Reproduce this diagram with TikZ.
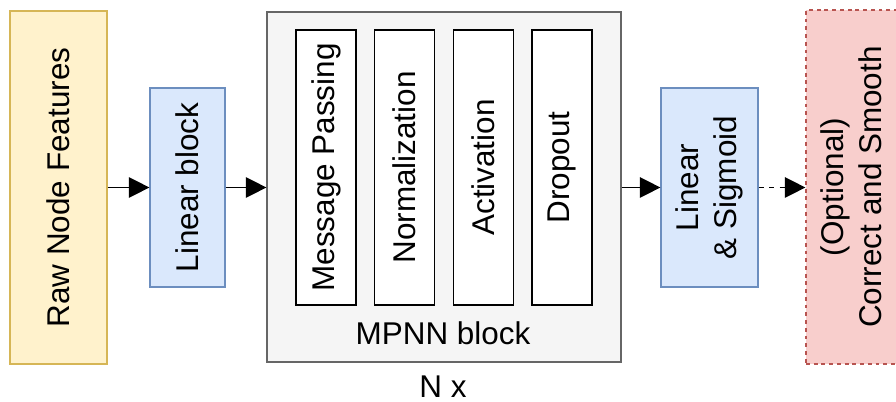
\documentclass[tikz,border=0pt]{standalone}
\usepackage{fontspec}
\setmainfont{Liberation Sans}
\usetikzlibrary{arrows.meta}

\definecolor{rawfill}{HTML}{FFF2CC}
\definecolor{rawline}{HTML}{D6B656}
\definecolor{linfill}{HTML}{DAE8FC}
\definecolor{linline}{HTML}{6C8EBF}
\definecolor{mpfill}{HTML}{F5F5F5}
\definecolor{mpline}{HTML}{666666}
\definecolor{csfill}{HTML}{F8CECC}
\definecolor{csline}{HTML}{B85450}

\newcommand{\pxl}{0.02cm}

\tikzset{
	txt/.style={font=\fontsize{17.9}{21.6}\selectfont},
	blk/.style={txt, draw, line width=0.7pt, inner sep=0pt, align=center},
	layer/.style={blk, fill=white, draw=black, line width=0.8pt, minimum width=60*\pxl, minimum height=275*\pxl},
	arr/.style={line width=0.8pt, -{Triangle[length=0.41cm,width=0.41cm]}}
}

\begin{document}
\begin{tikzpicture}[x=\pxl,y=\pxl]
	\useasboundingbox (0,0) rectangle (896,402);
	\node[blk, fill=rawfill, draw=rawline, minimum width=97*\pxl, minimum height=353*\pxl] (raw) at (58.5,214.5) {\rotatebox{90}{Raw Node Features}};
	\node[blk, fill=linfill, draw=linline, minimum width=75*\pxl, minimum height=199*\pxl] (lin) at (187.5,214.5) {\rotatebox{90}{Linear block}};
	\node[blk, fill=mpfill, draw=mpline, minimum width=354*\pxl, minimum height=350*\pxl] (mpnn) at (444,215) {};
	
	\foreach \name/\lbl [count=\i from 0] in {msg/Message Passing, norm/Normalization, act/Activation, drop/Dropout}
		\node[layer] (\name) at (326 + 78.67*\i, 234.5) {\rotatebox{90}{\lbl}};
	
	\node[txt] (mpnnlbl) at (443,69) {MPNN block};
	\node[txt, anchor=base, inner sep=0pt] (reps) at (443,4) {N x};
	
	\node[blk, fill=linfill, draw=linline, minimum width=97*\pxl, minimum height=199*\pxl] (linsig) at (709.5,214.5) {\rotatebox{90}{\begin{tabular}{@{}c@{}}Linear\\ \& Sigmoid\end{tabular}}};
	\node[blk, fill=csfill, draw=csline, dash pattern=on 2.2pt off 2.2pt, minimum width=97*\pxl, minimum height=354*\pxl] (cs) at (854.5,215) {\rotatebox{90}{\begin{tabular}{@{}c@{}}(Optional)\\ Correct and Smooth\end{tabular}}};
	
	\draw[arr] (raw.east) -- (lin.west);
	\draw[arr] (lin.east) -- (lin.east -| mpnn.west);
	\draw[arr] (linsig.west -| mpnn.east) -- (linsig.west);
	\draw[arr, dash pattern=on 3pt off 3pt] (linsig.east) -- (linsig.east -| cs.west);
\end{tikzpicture}
\end{document}
